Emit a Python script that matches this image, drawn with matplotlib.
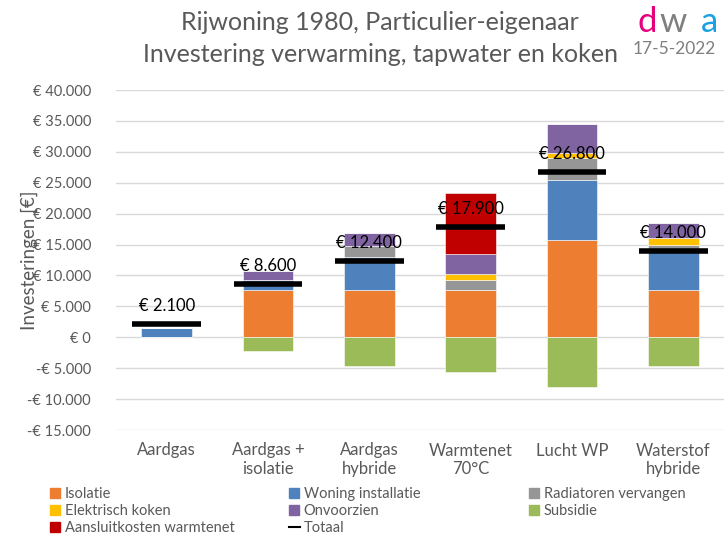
import matplotlib.pyplot as plt
import numpy as np
from matplotlib.lines import Line2D
from matplotlib.ticker import FuncFormatter

plt.rcParams["font.family"] = ["Lato", "DejaVu Sans"]

categories = ["Aardgas", "Aardgas +\nisolatie", "Aardgas\nhybride", "Warmtenet\n70°C", "Lucht WP", "Waterstof\nhybride"]
isolatie = [0, 7600, 7600, 7600, 15700, 7600]
woning_installatie = [1500, 1700, 5400, 0, 9700, 6600]
radiatoren = [0, 0, 1700, 1600, 3600, 700]
elektrisch_koken = [0, 0, 0, 1100, 800, 1200]
onvoorzien = [0, 1400, 2200, 3100, 4700, 2400]
aansluitkosten = [0, 0, 0, 10000, 0, 0]
subsidie = [0, -2300, -4600, -5600, -8000, -4600]
totaal = [2100, 8600, 12400, 17900, 26800, 14000]

GREY = "#595959"
series = [
    ("Isolatie", isolatie, "#ED7D31"),
    ("Woning installatie", woning_installatie, "#4F81BD"),
    ("Radiatoren vervangen", radiatoren, "#969696"),
    ("Elektrisch koken", elektrisch_koken, "#FFC000"),
    ("Onvoorzien", onvoorzien, "#8064A2"),
    ("Aansluitkosten warmtenet", aansluitkosten, "#C00000"),
]


def euro(v, pos=None):
    s = f"{abs(int(v)):,}".replace(",", ".")
    return f"-€ {s}" if v < 0 else f"€ {s}"


fig = plt.figure(figsize=(7.25, 5.37), dpi=100)
ax = fig.add_axes([116 / 725, 1 - 430 / 537, 608 / 725, 340 / 537])

x = np.arange(len(categories))
w = 0.5
bottom = np.zeros(len(categories))
colors = {}
for name, vals, c in series:
    vals = np.array(vals, dtype=float)
    ax.bar(x, vals, w, bottom=bottom, color=c, edgecolor="white", linewidth=0.4, zorder=2)
    bottom += vals
    colors[name] = c
ax.bar(x, subsidie, w, color="#9BBB59", edgecolor="white", linewidth=0.4, zorder=2)
colors["Subsidie"] = "#9BBB59"

ax.hlines(totaal, x - 0.34, x + 0.34, color="black", linewidth=4, zorder=3)
for xi, t in zip(x, totaal):
    ax.annotate(euro(t), (xi, t), xytext=(0, 13), textcoords="offset points",
                ha="center", va="center", fontsize=12, color="black", zorder=4)

ax.set_xlim(-0.5, len(categories) - 0.5)
ax.set_ylim(-15000, 40000)
ax.set_yticks(np.arange(-15000, 40001, 5000))
ax.yaxis.set_major_formatter(FuncFormatter(euro))
ax.set_xticks(x)
ax.set_xticklabels(categories)
ax.tick_params(axis="y", length=0, labelsize=10.5, colors=GREY, pad=18)
ax.tick_params(axis="x", length=0, labelsize=12, colors=GREY, pad=9)
ax.grid(axis="y", color="#d9d9d9", linewidth=1, zorder=0)
ax.set_axisbelow(True)
for s in ax.spines.values():
    s.set_visible(False)
ax.set_ylabel("Investeringen [€]", fontsize=13.5, color=GREY)
ax.yaxis.set_label_coords(-0.128, 0.5)

fig.text(380 / 725, 1 - 22 / 537, "Rijwoning 1980, Particulier-eigenaar", ha="center", va="center",
         fontsize=18, color=GREY)
fig.text(380 / 725, 1 - 55 / 537, "Investering verwarming, tapwater en koken", ha="center", va="center",
         fontsize=18, color=GREY)

# logo
fig.text(647 / 725, 1 - 22 / 537, "d", ha="center", va="center", fontsize=25, color="#E6007E")
fig.text(673 / 725, 1 - 22 / 537, "w", ha="center", va="center", fontsize=25, color="#7F7F7F")
fig.text(709 / 725, 1 - 22 / 537, "a", ha="center", va="center", fontsize=25, color="#1BA1E2")
fig.text(674 / 725, 1 - 49 / 537, "17-5-2022", ha="center", va="center", fontsize=12.5, color="#7F7F7F")

sq = dict(marker="s", linestyle="none", markersize=7.5)
legend_cols = [
    (50, [("Isolatie", "Isolatie"), ("Elektrisch koken", "Elektrisch koken"),
          ("Aansluitkosten warmtenet", "Aansluitkosten warmtenet")]),
    (289, [("Woning installatie", "Woning installatie"), ("Onvoorzien", "Onvoorzien"),
           ("Totaal", None)]),
    (529, [("Radiatoren vervangen", "Radiatoren vervangen"), ("Subsidie", "Subsidie")]),
]
for xpx, items in legend_cols:
    handles = []
    labels = []
    for label, key in items:
        if key is None:
            handles.append(Line2D([], [], color="black", linewidth=1.5))
        else:
            handles.append(Line2D([], [], color=colors[key], **sq))
        labels.append(label)
    leg = fig.legend(handles, labels, loc="upper left", bbox_to_anchor=(xpx / 725, 1 - 487 / 537),
                     frameon=False, fontsize=10.5, handlelength=0.75, handletextpad=0.25,
                     labelspacing=0.22, borderaxespad=0, borderpad=0)
    for t in leg.get_texts():
        t.set_color(GREY)

fig.savefig("out.png", dpi=100)
